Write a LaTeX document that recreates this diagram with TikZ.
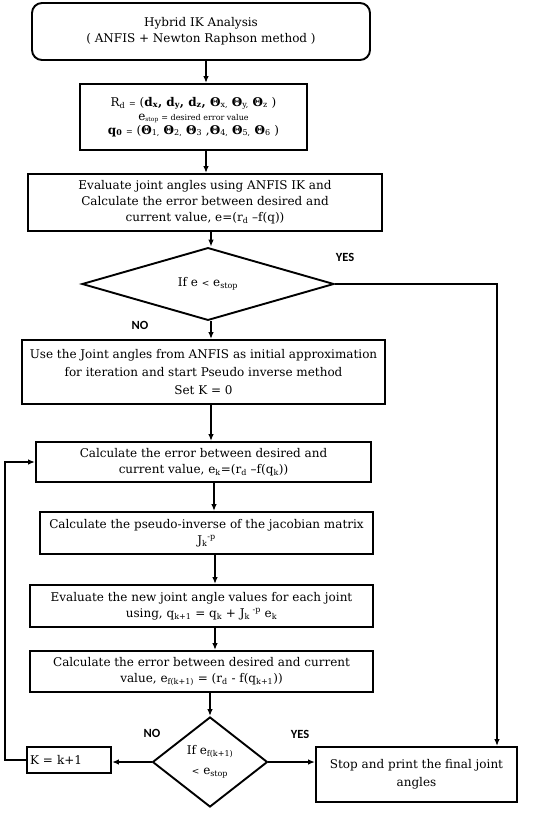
\documentclass[tikz,border=0pt]{standalone}
\usepackage{fontspec}
\setmainfont{DejaVu Serif}
\newfontfamily\lblfont{Carlito}
\usetikzlibrary{shapes.geometric,arrows.meta}
\begin{document}
\begin{tikzpicture}[x=1pt,y=-1pt,
  box/.style={draw,line width=1.9pt,inner sep=2pt,align=center,font=\fontsize{12}{16}\selectfont},
  dia/.style={draw,diamond,line width=1.9pt,inner sep=0pt,align=center,font=\fontsize{12}{16}\selectfont},
  arr/.style={line width=1.6pt,-{Latex[length=7pt,width=5.5pt]}},
  lbl/.style={font=\lblfont\bfseries\fontsize{12.5}{14}\selectfont}]
\useasboundingbox[fill=white] (0,0) rectangle (550,813);
\node[box,rounded corners=10pt,minimum width=338pt,minimum height=57pt] (b1) at (201,31.5)
  {Hybrid IK Analysis\\( ANFIS + Newton Raphson method )};
\node[box,minimum width=227pt,minimum height=66pt] (b2) at (193.5,117)
  {R\textsubscript{d} {\footnotesize =} (\textbf{d\textsubscript{x}, d\textsubscript{y}, d\textsubscript{z}, Θ}\textsubscript{x,} \textbf{Θ}\textsubscript{y,} \textbf{Θ}\textsubscript{z} )\\[-2pt]
   e{\footnotesize\textsubscript{stop} = desired error value}\\[-2pt]
   \textbf{q\textsubscript{0}} {\footnotesize =} (\textbf{Θ}\textsubscript{1,} \textbf{Θ}\textsubscript{2,} \textbf{Θ}\textsubscript{3} ,\textbf{Θ}\textsubscript{4,} \textbf{Θ}\textsubscript{5,} \textbf{Θ}\textsubscript{6} )};
\node[box,minimum width=354pt,minimum height=57pt] (b3) at (205,202.5)
  {Evaluate joint angles using ANFIS IK and\\Calculate the error between desired and\\current value, e=(r\textsubscript{d} –f(q))};
\node[dia,minimum width=252pt,minimum height=64pt] (d1) at (208,284)
  {If e {\small<} e\textsubscript{stop}};
\node[box,minimum width=363pt,minimum height=64pt,font=\fontsize{12}{18}\selectfont] (b4) at (203.5,372)
  {Use the Joint angles from ANFIS as initial approximation\\for iteration and start Pseudo inverse method\\Set K = 0};
\node[box,minimum width=335pt,minimum height=40pt] (b5) at (203.5,462)
  {Calculate the error between desired and\\current value, e\textsubscript{k}=(r\textsubscript{d} –f(q\textsubscript{k}))};
\node[box,minimum width=333pt,minimum height=42pt] (b6) at (206.5,533)
  {Calculate the pseudo-inverse of the jacobian matrix\\J\textsubscript{k}\textsuperscript{-p}};
\node[box,minimum width=343pt,minimum height=42pt] (b7) at (201.5,606)
  {Evaluate the new joint angle values for each joint\\using, q\textsubscript{k+1} = q\textsubscript{k} + J\textsubscript{k}\textsuperscript{ -p} e\textsubscript{k}};
\node[box,minimum width=343pt,minimum height=41pt] (b8) at (201.5,671.5)
  {Calculate the error between desired and current\\value, e\textsubscript{f(k+1)} = (r\textsubscript{d} - f(q\textsubscript{k+1}))};
\node[dia,minimum width=115pt,minimum height=90pt,font=\fontsize{12}{20}\selectfont] (d2) at (210,762)
  {If e\textsubscript{f(k+1)}\\{\small<} e\textsubscript{stop}};
\node[box,minimum width=84pt,minimum height=26pt,text width=78pt,align=left] (k) at (69,760)
  {K = k+1};
\node[box,minimum width=201pt,minimum height=55pt,font=\fontsize{12}{18}\selectfont] (s) at (416.5,774.5)
  {Stop and print the final joint\\angles};
% coordinates for vertical arrows
\coordinate (x1) at (206,0);
\coordinate (x3) at (211,0);
\coordinate (x6) at (214,0);
\coordinate (x7) at (215,0);
\coordinate (yes) at (497,0);
\coordinate (lp) at (5,0);
\draw[arr] (b1.south -| x1) -- (b2.north -| x1);
\draw[arr] (b2.south -| x1) -- (b3.north -| x1);
\draw[arr] (b3.south -| x3) -- (d1.north -| x3);
\draw[arr] (d1.south -| x3) -- (b4.north -| x3);
\draw[arr] (b4.south -| x3) -- (b5.north -| x3);
\draw[arr] (b5.south -| x6) -- (b6.north -| x6);
\draw[arr] (b6.south -| x7) -- (b7.north -| x7);
\draw[arr] (b7.south -| x7) -- (b8.north -| x7);
\draw[arr] (b8.south -| d2) -- (d2.north);
\draw[arr] (d1.east) -- (d1.east -| yes) -- (s.north -| yes);
\draw[arr] (d2.west) -- (d2.west -| k.east);
\draw[arr] (d2.east) -- (d2.east -| s.west);
\draw[arr] (k.west) -- (k.west -| lp) -- (b5.west -| lp) -- (b5.west);
\node[lbl] (yes1) at (345,257) {YES};
\node[lbl] (no1) at (140,325) {NO};
\node[lbl] (no2) at (152,733) {NO};
\node[lbl] (yes2) at (300,734) {YES};
\end{tikzpicture}
\end{document}
